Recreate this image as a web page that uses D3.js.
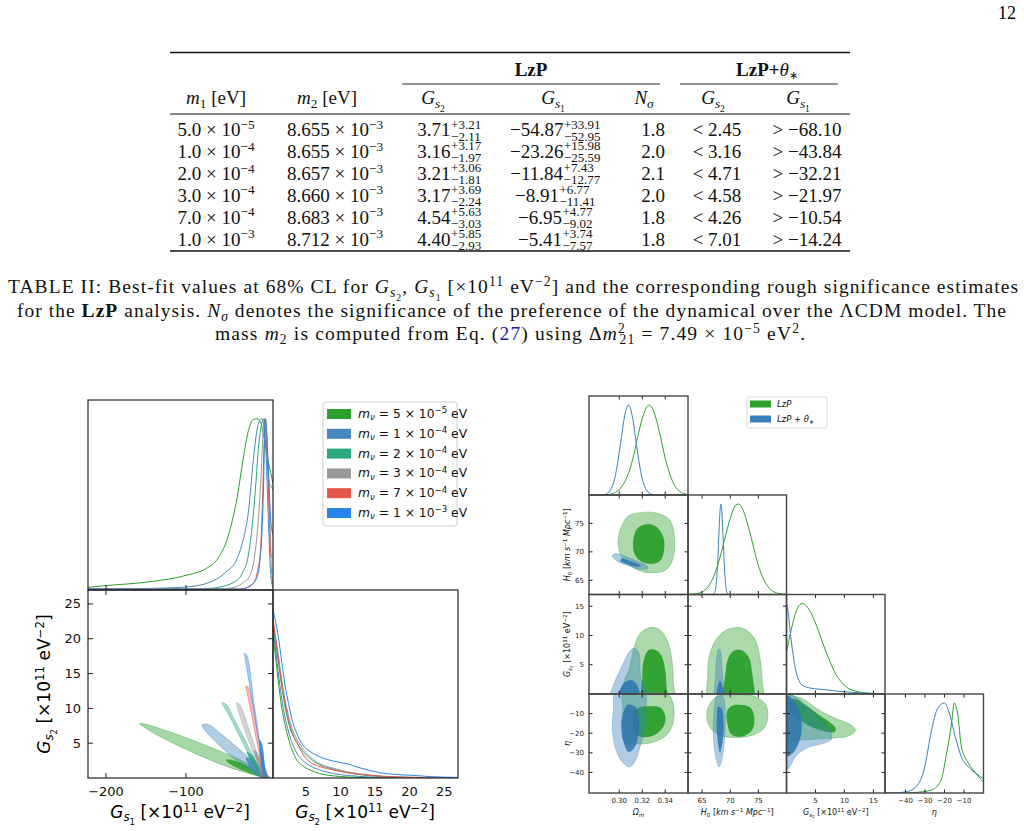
<!DOCTYPE html>
<html>
<head>
<meta charset="utf-8">
<script src="https://cdn.jsdelivr.net/npm/d3@7"></script>
<style>
  body { margin: 0; background: #fff; }
  svg { display: block; }
</style>
</head>
<body>
<svg id="page" width="1024" height="831"></svg>
<script>
// ---------------- table data ----------------
const m1Mant = ["5.0", "1.0", "2.0", "3.0", "7.0", "1.0"];
const m1Exp = ["−5", "−4", "−4", "−4", "−4", "−3"];
const m2Mant = ["8.655", "8.655", "8.657", "8.660", "8.683", "8.712"];
const gs2Best = ["3.71", "3.16", "3.21", "3.17", "4.54", "4.40"];
const gs2Up = ["+3.21", "+3.17", "+3.06", "+3.69", "+5.63", "+5.85"];
const gs2Lo = ["−2.11", "−1.97", "−1.81", "−2.24", "−3.03", "−2.93"];
const gs1Best = ["−54.87", "−23.26", "−11.84", "−8.91", "−6.95", "−5.41"];
const gs1Up = ["+33.91", "+15.98", "+7.43", "+6.77", "+4.77", "+3.74"];
const gs1Lo = ["−52.95", "−25.59", "−12.77", "−11.41", "−9.02", "−7.57"];
const nSigma = ["1.8", "2.0", "2.1", "2.0", "1.8", "1.8"];
const gs2Limit = ["< 2.45", "< 3.16", "< 4.71", "< 4.58", "< 4.26", "< 7.01"];
const gs1Limit = ["> −68.10", "> −43.84", "> −32.21", "> −21.97", "> −10.54", "> −14.24"];

// ---------------- left corner plot data (Gs1, Gs2) ----------------
const massMant = ["5", "1", "2", "3", "7", "1"];
const massExp = ["−5", "−4", "−4", "−4", "−4", "−3"];
const massColors = ["#2ca02c", "#4689be", "#2aa77e", "#999999", "#e6554b", "#2885e8"];

// 1D marginal of Gs1, one per mass  [Gs1, density]
const gs1Dens5e5 = [[-222, 0.01], [-200, 0.02], [-150, 0.04], [-100, 0.08], [-75, 0.12], [-60, 0.18], [-48, 0.3], [-36, 0.54], [-28, 0.78], [-22, 0.93], [-16, 0.995], [-11, 1.0], [-6, 0.97], [-2, 0.88], [2, 0.77], [6, 0.68], [8.7, 0.62]];
const gs1Dens1e4 = [[-222, 0], [-150, 0.003], [-100, 0.012], [-70, 0.04], [-50, 0.1], [-36, 0.18], [-28, 0.3], [-22, 0.45], [-16, 0.75], [-11, 0.94], [-6, 1.0], [-3, 0.97], [0, 0.8], [3, 0.4], [6, 0.08], [8.7, 0.01]];
const gs1Dens2e4 = [[-222, 0], [-80, 0], [-60, 0.01], [-40, 0.04], [-30, 0.09], [-22, 0.2], [-17, 0.38], [-13, 0.6], [-9, 0.85], [-5, 0.98], [-3, 1.0], [0, 0.9], [4, 0.62], [7, 0.6], [8.7, 0.58]];
const gs1Dens3e4 = [[-222, 0], [-55, 0], [-40, 0.01], [-28, 0.04], [-20, 0.08], [-14, 0.2], [-10, 0.38], [-6, 0.68], [-3.5, 0.93], [-2, 1.0], [0, 0.95], [4, 0.55], [7, 0.1], [8.7, 0.02]];
const gs1Dens7e4 = [[-222, 0], [-35, 0], [-22, 0.01], [-14, 0.05], [-10, 0.12], [-7, 0.22], [-4.5, 0.5], [-3, 0.75], [-1.5, 0.97], [-1, 1.0], [0, 0.97], [3, 0.6], [6, 0.2], [8.7, 0.18]];
const gs1Dens1e3 = [[-222, 0], [-30, 0], [-20, 0.02], [-12, 0.06], [-8, 0.15], [-5, 0.34], [-3, 0.62], [-2, 0.85], [-1, 1.0], [0, 0.98], [3, 0.7], [6, 0.4], [8.7, 0.32]];

// 1D marginal of Gs2, one per mass  [Gs2, density]
const gs2Dens5e5 = [[0.25, 0.82], [1, 0.55], [1.5, 0.4], [2, 0.3], [2.5, 0.22], [3, 0.16], [3.7, 0.1], [4.5, 0.07], [5.6, 0.045], [7, 0.025], [9, 0.012], [11, 0.006], [14, 0.002], [27, 0]];
const gs2Dens1e4 = [[0.25, 0.85], [1, 0.6], [1.5, 0.45], [2, 0.34], [2.5, 0.26], [3, 0.2], [3.7, 0.14], [4.5, 0.1], [5.6, 0.07], [7, 0.045], [9, 0.025], [11, 0.015], [14, 0.006], [18, 0.002], [27, 0]];
const gs2Dens2e4 = [[0.25, 0.86], [1, 0.66], [1.5, 0.52], [2, 0.4], [2.5, 0.31], [3, 0.25], [3.7, 0.2], [4.5, 0.155], [5.6, 0.11], [7, 0.075], [9, 0.05], [11, 0.03], [13, 0.018], [16, 0.008], [20, 0.003], [27, 0.001]];
const gs2Dens3e4 = [[0.25, 0.88], [1, 0.7], [1.5, 0.56], [2, 0.44], [2.5, 0.35], [3, 0.28], [3.7, 0.22], [4.5, 0.17], [5.6, 0.12], [7, 0.08], [9, 0.055], [11, 0.035], [13, 0.022], [16, 0.01], [20, 0.004], [27, 0.001]];
const gs2Dens7e4 = [[0.25, 0.9], [1, 0.68], [1.5, 0.54], [2, 0.42], [2.5, 0.33], [3, 0.26], [3.7, 0.2], [4.5, 0.14], [5.6, 0.09], [7, 0.065], [9, 0.045], [11, 0.03], [13, 0.02], [16, 0.01], [20, 0.004], [27, 0.001]];
const gs2Dens1e3 = [[0.25, 0.95], [1, 0.8], [1.5, 0.66], [2, 0.52], [2.5, 0.42], [3, 0.33], [3.7, 0.25], [4.5, 0.19], [5.6, 0.15], [7, 0.12], [9, 0.095], [11, 0.08], [13, 0.055], [15.7, 0.03], [18, 0.02], [20.4, 0.015], [23, 0.008], [27, 0.003]];

// 2D contours (Gs1, Gs2): outer = 95%, inner = 68%
const cont95_5e5 = [[-158, 7.8], [-150, 7.7], [-120, 6.6], [-80, 4.9], [-40, 3.0], [-15, 1.6], [0, 0.6], [5, 0], [0, 0], [-20, 0.6], [-50, 1.7], [-90, 3.6], [-130, 5.8], [-155, 7.5]];
const cont68_5e5 = [[-50, 2.6], [-40, 2.5], [-20, 1.6], [-5, 0.6], [2, 0], [-8, 0.2], [-25, 0.9], [-45, 2.0]];
const cont95_1e4 = [[-80, 7.6], [-72, 7.7], [-55, 6.2], [-35, 4.3], [-15, 2.2], [0, 0.6], [4, 0], [-5, 0], [-20, 1.2], [-40, 2.8], [-60, 4.9], [-76, 6.8]];
const cont68_1e4 = [[-25, 2.9], [-18, 2.7], [-8, 1.5], [0, 0.3], [-5, 0.2], [-15, 0.9], [-23, 2.2]];
const cont95_2e4 = [[-55, 10.8], [-50, 10.6], [-38, 8.0], [-22, 4.5], [-8, 1.5], [2, 0], [-5, 0.2], [-18, 2.6], [-33, 6.0], [-48, 9.4]];
const cont68_2e4 = [[-24, 3.7], [-18, 3.4], [-8, 1.5], [0, 0.2], [-6, 0.4], [-15, 1.8], [-22, 3.1]];
const cont95_3e4 = [[-37, 10.8], [-33, 10.6], [-22, 7.2], [-10, 3.2], [1, 0.2], [-3, 0.1], [-12, 2.5], [-25, 6.4], [-35, 9.8]];
const cont68_3e4 = [[-15, 4.0], [-11, 3.6], [-4, 1.3], [0, 0.1], [-4, 0.4], [-10, 2.0], [-14, 3.3]];
const cont95_7e4 = [[-25, 13.2], [-22, 13.0], [-12, 7.4], [-3, 2.0], [2, 0], [-2, 0], [-9, 3.8], [-18, 9.0], [-24, 12.5]];
const cont68_7e4 = [[-8, 4.3], [-5, 3.8], [-1, 1.0], [0, 0], [-3, 0.6], [-7, 2.6]];
const cont95_1e3 = [[-27, 17.9], [-24, 17.6], [-14, 10.0], [-5, 3.2], [1, 0.2], [-2, 0], [-8, 4.6], [-18, 11.6], [-26, 17.1]];
const cont68_1e3 = [[-8, 5.5], [-5, 5], [-1, 1.2], [0, 0], [-3, 0.8], [-7, 3.5]];

const gs1Ticks = [-200, -100];
const gs2Ticks = [5, 10, 15, 20, 25];

// ---------------- right corner plot data ----------------
const omTicks = [0.30, 0.32, 0.34];
const h0Ticks = [65, 70, 75];
const gsTicks = [5, 10, 15];
const etaTicks = [-40, -30, -20, -10];

const omLzP1D = [[0.276, 0], [0.284, 0.001], [0.288, 0.003], [0.292, 0.008], [0.296, 0.025], [0.300, 0.06], [0.304, 0.13], [0.308, 0.24], [0.312, 0.41], [0.316, 0.64], [0.320, 0.85], [0.324, 0.98], [0.326, 1.0], [0.328, 0.98], [0.332, 0.85], [0.336, 0.64], [0.340, 0.41], [0.344, 0.23], [0.348, 0.11], [0.352, 0.046], [0.356, 0.017], [0.360, 0.005]];
const omTh1D = [[0.276, 0], [0.284, 0.001], [0.288, 0.008], [0.290, 0.022], [0.292, 0.048], [0.294, 0.099], [0.296, 0.18], [0.298, 0.31], [0.300, 0.47], [0.302, 0.65], [0.304, 0.83], [0.306, 0.95], [0.308, 1.0], [0.310, 0.95], [0.312, 0.83], [0.314, 0.65], [0.316, 0.47], [0.318, 0.31], [0.320, 0.18], [0.322, 0.099], [0.324, 0.048], [0.326, 0.022], [0.328, 0.009], [0.332, 0.001], [0.340, 0], [0.360, 0]];
const h0LzP1D = [[62.5, 0.001], [63, 0.002], [64, 0.009], [65, 0.028], [66, 0.08], [67, 0.19], [68, 0.37], [69, 0.61], [70, 0.84], [71, 0.99], [71.4, 1.0], [72, 0.97], [73, 0.80], [74, 0.56], [75, 0.32], [76, 0.16], [77, 0.066], [78, 0.023], [79, 0.007], [80, 0.002]];
const h0Th1D = [[62.5, 0], [66.5, 0], [67, 0.003], [67.25, 0.023], [67.5, 0.11], [67.75, 0.32], [68, 0.68], [68.25, 0.97], [68.35, 1.0], [68.5, 0.93], [68.75, 0.61], [69, 0.27], [69.25, 0.08], [69.5, 0.015], [69.75, 0.002], [70.25, 0], [80, 0]];
const gsLzP1D = [[0, 0.46], [0.5, 0.62], [1, 0.76], [1.5, 0.88], [2, 0.96], [2.7, 1.0], [3.5, 0.97], [4.5, 0.86], [5.5, 0.70], [6.5, 0.52], [7.5, 0.36], [8.5, 0.22], [9.5, 0.13], [10.5, 0.07], [12, 0.03], [14, 0.01], [17, 0.002]];
const gsTh1D = [[0, 1.0], [0.3, 0.9], [0.6, 0.72], [1, 0.5], [1.5, 0.29], [2, 0.17], [2.5, 0.11], [3.5, 0.075], [5, 0.058], [7, 0.045], [9, 0.03], [11, 0.02], [14, 0.008], [17, 0.002]];
const etaLzP1D = [[-50.5, 0], [-40, 0], [-33, 0.01], [-27, 0.03], [-22, 0.13], [-19, 0.43], [-16.4, 0.77], [-15, 1.0], [-13.3, 0.89], [-11.3, 0.51], [-7.7, 0.33], [-4, 0.22], [0, 0.12]];
const etaTh1D = [[-50.5, 0], [-45, 0.003], [-40, 0.012], [-35, 0.06], [-30, 0.3], [-27, 0.66], [-23.5, 0.94], [-20, 1.0], [-18, 0.92], [-14.4, 0.62], [-11.3, 0.4], [-7.7, 0.29], [-4, 0.22], [0, 0.16]];

// 2D contours [x param, y param]
const omH0LzP95 = [[0.299, 71.5], [0.302, 74.5], [0.308, 76.3], [0.318, 76.9], [0.333, 76.8], [0.344, 75.6], [0.348, 72.5], [0.347, 69], [0.341, 66.9], [0.328, 66.3], [0.314, 67.0], [0.303, 68.8]];
const omH0LzP68 = [[0.312, 71.5], [0.315, 73.9], [0.322, 74.8], [0.331, 74.6], [0.338, 72.8], [0.339, 70.2], [0.335, 68.3], [0.326, 67.9], [0.317, 68.6], [0.313, 69.8]];
const omH0Th95 = [[0.294, 69.3], [0.297, 69.7], [0.304, 69.3], [0.315, 68.4], [0.324, 67.6], [0.325, 67.1], [0.320, 66.9], [0.309, 67.5], [0.298, 68.4]];
const omH0Th68 = [[0.302, 68.8], [0.308, 68.5], [0.316, 67.9], [0.319, 67.5], [0.315, 67.4], [0.307, 67.8], [0.301, 68.4]];
const omGsLzP95 = [[0.302, -1], [0.304, 2], [0.309, 4.5], [0.313, 8], [0.318, 10.3], [0.326, 11.3], [0.335, 11.0], [0.342, 9.0], [0.346, 5.5], [0.347, 2], [0.347, -1]];
const omGsLzP68 = [[0.320, -1], [0.320, 2.5], [0.321, 5.5], [0.325, 7.4], [0.330, 7.6], [0.336, 6.8], [0.340, 4.2], [0.341, 1.5], [0.341, -1]];
const omGsTh95 = [[0.292, -1], [0.295, 1.5], [0.300, 3.8], [0.305, 5.8], [0.309, 7.3], [0.313, 7.8], [0.317, 7.0], [0.318, 4.5], [0.319, 2.5], [0.323, 0.8], [0.325, -1]];
const omGsTh68 = [[0.299, -1], [0.301, 0.9], [0.305, 2.0], [0.310, 2.4], [0.314, 2.0], [0.317, 0.8], [0.318, -1]];
const omEtaLzP95 = [[0.304, 1], [0.303, -8], [0.302, -17], [0.305, -24.5], [0.315, -25.5], [0.330, -24.5], [0.342, -20.5], [0.347, -14], [0.347, -5], [0.343, -0.5], [0.335, 1]];
const omEtaLzP68 = [[0.313, -9], [0.312, -15], [0.314, -20], [0.321, -22], [0.332, -20.5], [0.339, -16], [0.340, -11], [0.336, -7], [0.326, -6.3], [0.317, -7]];
const omEtaTh95 = [[0.297, 1], [0.295, -8], [0.294, -18], [0.297, -28], [0.303, -35], [0.309, -37.2], [0.314, -34], [0.318, -27], [0.322, -18], [0.323, -8], [0.322, 1]];
const omEtaTh68 = [[0.307, -5.5], [0.303, -11], [0.302, -18], [0.304, -25], [0.308, -29.5], [0.313, -27.5], [0.317, -20], [0.317, -12], [0.314, -6.5]];
const h0GsLzP95 = [[66.3, -1], [66.0, 3], [66.3, 6.5], [67.6, 9.5], [69.7, 11.1], [72.3, 11.2], [74.3, 9.5], [75.3, 6], [75.7, 2], [75.7, -1]];
const h0GsLzP68 = [[69.0, -1], [69.1, 3], [69.6, 6], [70.6, 7.4], [71.9, 7.5], [73.3, 6.3], [73.9, 3.5], [74.0, -1]];
const h0GsTh95 = [[67.4, -1], [67.4, 3], [67.6, 6.2], [67.9, 7.7], [68.3, 7.2], [68.5, 4.5], [68.8, 1.5], [68.9, -1]];
const h0GsTh68 = [[67.6, -1], [67.8, 1.3], [68.2, 2.3], [68.6, 1.4], [68.9, -1]];
const h0EtaLzP95 = [[67.5, -1.5], [66.2, -6], [65.8, -11], [66.4, -17], [68.2, -21], [71, -22.2], [74, -21], [76, -17.5], [76.7, -11], [76.2, -5], [74.3, -1.2], [71, -0.3]];
const h0EtaLzP68 = [[69.4, -9], [69.5, -15], [70.2, -20.5], [72, -21.8], [73.8, -18.8], [74.3, -13], [73.6, -7], [71.5, -5.5], [70.2, -6.3]];
const h0EtaTh95 = [[67.6, -1], [67.1, -10], [67.0, -20], [67.3, -30], [68.0, -37.2], [68.6, -32], [69.0, -22], [69.1, -10], [68.8, -2], [68.2, -0.3]];
const h0EtaTh68 = [[67.9, -6.5], [67.6, -13], [67.7, -22], [68.2, -29.8], [68.7, -23], [68.8, -14], [68.5, -7.5]];
const gsEtaLzP95 = [[-1, 0.5], [1, -0.8], [3, -2.8], [5.5, -8], [8.5, -12.5], [11, -15.5], [11.9, -18.5], [10.8, -21.3], [8, -22.5], [4, -23.2], [1.5, -23.8], [-1, -25.5]];
const gsEtaLzP68 = [[1.2, -2.5], [3.2, -5.5], [5.5, -10.5], [7.5, -14.5], [8.5, -17.5], [8.3, -19.4], [6.2, -18.8], [3.5, -15.5], [1.3, -11], [0.4, -6]];
const gsEtaTh95 = [[-1, 0.5], [1.5, -1.5], [3.5, -6.5], [6, -13], [7.6, -19], [7.8, -23], [6.5, -25], [3.8, -27.2], [1.8, -31], [0.3, -38], [-1, -41]];
const gsEtaTh68 = [[-1, 0], [0.8, -2], [2, -7], [2.6, -14], [2.5, -21], [1.8, -27], [0.8, -31], [-1, -32]];

// ---------------- helpers ----------------
const svg = d3.select("#page");
const defs = svg.append("defs");
const serif = "'Liberation Serif', 'Times New Roman', serif";
const sans = "'DejaVu Sans', sans-serif";

// segments: [text, style, dx]; style: i italic, b bold, ^ sup, _ sub, ~ sub-sub, L link colour
function rich(text, segs, fs) {
	let cur = 0;
	segs.forEach(s => {
		const [t, st = "", dx = 0] = s;
		let off = 0, size = fs;
		if (st.includes("^")) { off = -0.38 * fs; size = 0.7 * fs; }
		else if (st.includes("~")) { off = 0.42 * fs; size = 0.5 * fs; }
		else if (st.includes("_")) { off = 0.2 * fs; size = 0.7 * fs; }
		const ts = text.append("tspan").attr("font-size", size).attr("dy", (off - cur).toFixed(2)).text(t);
		if (dx) ts.attr("dx", dx);
		if (st.includes("i")) ts.attr("font-style", "italic");
		if (st.includes("b")) ts.attr("font-weight", "bold");
		if (st.includes("L")) ts.attr("fill", "#2222a0");
		cur = off;
	});
	return text;
}

function clip(id, x, y, w, h) {
	defs.append("clipPath").attr("id", id).append("rect")
		.attr("x", x).attr("y", y).attr("width", w).attr("height", h);
	return `url(#${id})`;
}

const minus = d => d < 0 ? "−" + Math.abs(d) : String(d);

// ---------------- page number ----------------
svg.append("text").attr("x", 1016).attr("y", 19).attr("text-anchor", "end")
	.attr("font-family", serif).attr("font-size", 18).text("12");

// ---------------- table ----------------
const tbl = svg.append("g").attr("font-family", serif).attr("fill", "#111");
const tfs = 19;
tbl.append("line").attr("x1", 170).attr("x2", 850).attr("y1", 52.5).attr("y2", 52.5).attr("stroke", "#111").attr("stroke-width", 1.6);
tbl.append("line").attr("x1", 170).attr("x2", 850).attr("y1", 114).attr("y2", 114).attr("stroke", "#111").attr("stroke-width", 1);
tbl.append("line").attr("x1", 170).attr("x2", 850).attr("y1", 251).attr("y2", 251).attr("stroke", "#111").attr("stroke-width", 1.6);
tbl.append("line").attr("x1", 402).attr("x2", 660).attr("y1", 84).attr("y2", 84).attr("stroke", "#111").attr("stroke-width", 0.9);
tbl.append("line").attr("x1", 680).attr("x2", 838).attr("y1", 84).attr("y2", 84).attr("stroke", "#111").attr("stroke-width", 0.9);

rich(tbl.append("text").attr("x", 531).attr("y", 76).attr("text-anchor", "middle"), [["LzP", "b"]], tfs);
const thetaHead = tbl.append("text").attr("x", 767).attr("y", 76).attr("text-anchor", "middle");
rich(thetaHead, [["LzP+", "b"], ["θ", "i"]], tfs);
thetaHead.append("tspan").attr("font-size", 11).attr("dy", 3).text("∗");

const headers = [
	[216, [["m", "i"], ["1", "_"], [" [eV]"]]],
	[327, [["m", "i"], ["2", "_"], [" [eV]"]]],
	[433, [["G", "i"], ["s", "i_"], ["2", "~"]]],
	[553, [["G", "i"], ["s", "i_"], ["1", "~"]]],
	[644, [["N", "i"], ["σ", "i_"]]],
	[713, [["G", "i"], ["s", "i_"], ["2", "~"]]],
	[798, [["G", "i"], ["s", "i_"], ["1", "~"]]]
];
headers.forEach(([x, segs]) => rich(tbl.append("text").attr("x", x).attr("y", 104).attr("text-anchor", "middle"), segs, tfs));

function pmCell(cx, y, base, up, lo) {
	const t = tbl.append("text").attr("y", y).attr("font-size", tfs).text(base);
	const w = t.node().getComputedTextLength();
	const tu = tbl.append("text").attr("y", y - 7.5).attr("font-size", 13).text(up);
	const tl = tbl.append("text").attr("y", y + 4.5).attr("font-size", 13).text(lo);
	const wu = Math.max(tu.node().getComputedTextLength(), tl.node().getComputedTextLength());
	const x0 = cx - (w + wu) / 2;
	t.attr("x", x0);
	tu.attr("x", x0 + w + 0.5);
	tl.attr("x", x0 + w + 0.5);
}

m1Mant.forEach((m, i) => {
	const y = 136 + i * 21.9;
	rich(tbl.append("text").attr("x", 216).attr("y", y).attr("text-anchor", "middle"), [[m + " × 10"], [m1Exp[i], "^"]], tfs);
	rich(tbl.append("text").attr("x", 335).attr("y", y).attr("text-anchor", "middle"), [[m2Mant[i] + " × 10"], ["−3", "^"]], tfs);
	pmCell(449, y, gs2Best[i], gs2Up[i], gs2Lo[i]);
	pmCell(555, y, gs1Best[i], gs1Up[i], gs1Lo[i]);
	tbl.append("text").attr("x", 665).attr("y", y).attr("text-anchor", "end").attr("font-size", tfs).text(nSigma[i]);
	tbl.append("text").attr("x", 717).attr("y", y).attr("text-anchor", "middle").attr("font-size", tfs).text(gs2Limit[i]);
	tbl.append("text").attr("x", 807).attr("y", y).attr("text-anchor", "middle").attr("font-size", tfs).text(gs1Limit[i]);
});

// ---------------- caption ----------------
const captionLines = [
	[["TABLE II: Best-fit values at 68% CL for "], ["G", "i"], ["s", "i_"], ["2", "~"], [", "], ["G", "i"], ["s", "i_"], ["1", "~"], [" [×10"], ["11", "^"], [" eV"], ["−2", "^"], ["] and the corresponding rough significance estimates"]],
	[["for the "], ["LzP", "b"], [" analysis. "], ["N", "i"], ["σ", "i_"], [" denotes the significance of the preference of the dynamical over the ΛCDM model. The"]],
	[["mass "], ["m", "i"], ["2", "_"], [" is computed from Eq. ("], ["27", "L"], [") using Δ"], ["m", "i"], ["2", "^"], ["21", "_", -6.5], [" = 7.49 × 10"], ["−5", "^"], [" eV"], ["2", "^"], ["."]]
];
const captionX = [513, 511.5, 510];
const captionY = [293, 317, 340];
const captionW = [1010, 989, 590];
const cap = svg.append("g").attr("font-family", serif).attr("fill", "#111");
captionLines.forEach((segs, i) => {
	rich(cap.append("text").attr("x", captionX[i]).attr("y", captionY[i]).attr("text-anchor", "middle")
		.attr("textLength", captionW[i]).attr("lengthAdjust", "spacing"), segs, 19.5);
});

// ---------------- left corner plot ----------------
const L = { x0: 88, xm: 273, x1: 458, y0: 400, ym: 590, y1: 778 };
const xG1 = d3.scaleLinear([-222.5, 8.75], [L.x0, L.xm]);
const yG2 = d3.scaleLinear([0, 27], [L.y1, L.ym]);
const xG2 = d3.scaleLinear([0.25, 27], [L.xm, L.x1]);
const yTop = d3.scaleLinear([0, 1.11], [L.ym - 1, L.y0]);
const yRight = d3.scaleLinear([0, 1.06], [L.y1, L.ym]);

const left = svg.append("g").attr("font-family", sans);
const gs1Dens = [gs1Dens5e5, gs1Dens1e4, gs1Dens2e4, gs1Dens3e4, gs1Dens7e4, gs1Dens1e3];
const gs2Dens = [gs2Dens5e5, gs2Dens1e4, gs2Dens2e4, gs2Dens3e4, gs2Dens7e4, gs2Dens1e3];
const conts = [[cont95_5e5, cont68_5e5], [cont95_1e4, cont68_1e4], [cont95_2e4, cont68_2e4],
	[cont95_3e4, cont68_3e4], [cont95_7e4, cont68_7e4], [cont95_1e3, cont68_1e3]];

const topPanel = left.append("g").attr("clip-path", clip("cTop", L.x0, L.y0, L.xm - L.x0, L.ym - L.y0));
const lineTop = d3.line().x(d => xG1(d[0])).y(d => yTop(d[1])).curve(d3.curveMonotoneX);
topPanel.selectAll("path").data(gs1Dens).join("path")
	.attr("d", lineTop).attr("fill", "none").attr("stroke", (d, i) => massColors[i]).attr("stroke-width", 1);

const area2D = left.append("g").attr("clip-path", clip("c2D", L.x0, L.ym, L.xm - L.x0, L.y1 - L.ym));
const closed = d3.line().x(d => xG1(d[0])).y(d => yG2(d[1])).curve(d3.curveCatmullRomClosed.alpha(0.5));
conts.forEach((pair, i) => {
	area2D.append("path").attr("d", closed(pair[0])).attr("fill", massColors[i]).attr("fill-opacity", 0.42)
		.attr("stroke", massColors[i]).attr("stroke-opacity", 0.6).attr("stroke-width", 0.7);
	area2D.append("path").attr("d", closed(pair[1])).attr("fill", massColors[i]).attr("fill-opacity", 0.85);
});

const rightPanel = left.append("g").attr("clip-path", clip("cRight", L.xm, L.ym, L.x1 - L.xm, L.y1 - L.ym));
const lineRight = d3.line().x(d => xG2(d[0])).y(d => yRight(d[1])).curve(d3.curveMonotoneX);
rightPanel.selectAll("path").data(gs2Dens).join("path")
	.attr("d", lineRight).attr("fill", "none").attr("stroke", (d, i) => massColors[i]).attr("stroke-width", 1);

// frames
const frame = left.append("g").attr("fill", "none").attr("stroke", "#222").attr("stroke-width", 1.2);
frame.append("rect").attr("x", L.x0).attr("y", L.y0).attr("width", L.xm - L.x0).attr("height", L.ym - L.y0);
frame.append("rect").attr("x", L.x0).attr("y", L.ym).attr("width", L.xm - L.x0).attr("height", L.y1 - L.ym);
frame.append("rect").attr("x", L.xm).attr("y", L.ym).attr("width", L.x1 - L.xm).attr("height", L.y1 - L.ym);

// ticks
const tk = left.append("g").attr("stroke", "#222").attr("stroke-width", 1);
gs1Ticks.forEach(v => {
	const x = xG1(v);
	tk.append("line").attr("x1", x).attr("x2", x).attr("y1", L.ym).attr("y2", L.ym - 5);
	tk.append("line").attr("x1", x).attr("x2", x).attr("y1", L.ym).attr("y2", L.ym + 5);
	tk.append("line").attr("x1", x).attr("x2", x).attr("y1", L.y1).attr("y2", L.y1 - 5);
});
gs2Ticks.forEach(v => {
	const y = yG2(v);
	tk.append("line").attr("x1", L.x0).attr("x2", L.x0 + 5).attr("y1", y).attr("y2", y);
	tk.append("line").attr("x1", L.xm).attr("x2", L.xm - 5).attr("y1", y).attr("y2", y);
});

const tl = left.append("g").attr("font-size", 13).attr("fill", "#111");
gs1Ticks.forEach(v => tl.append("text").attr("x", xG1(v)).attr("y", 796).attr("text-anchor", "middle").text(minus(v)));
gs2Ticks.forEach(v => tl.append("text").attr("x", xG2(v)).attr("y", 796).attr("text-anchor", "middle").text(v));
gs2Ticks.forEach(v => tl.append("text").attr("x", 81).attr("y", yG2(v) + 4.5).attr("text-anchor", "end").text(v));

const gsLabel = n => [["G", "i"], ["s", "i_"], [n, "~"], [" [×10"], ["11", "^"], [" eV"], ["−2", "^"], ["]"]];
rich(left.append("text").attr("x", 180).attr("y", 818).attr("text-anchor", "middle"), gsLabel("1"), 17);
rich(left.append("text").attr("x", 365).attr("y", 818).attr("text-anchor", "middle"), gsLabel("2"), 17);
rich(left.append("text").attr("transform", "translate(50,684) rotate(-90)").attr("text-anchor", "middle"), gsLabel("2"), 17);

// legend
const lg = left.append("g");
lg.append("rect").attr("x", 323).attr("y", 402).attr("width", 134).attr("height", 124).attr("rx", 3)
	.attr("fill", "#fff").attr("fill-opacity", 0.8).attr("stroke", "#d0d0d0");
massMant.forEach((m, i) => {
	const y = 414 + i * 19.8;
	lg.append("rect").attr("x", 327).attr("y", y - 5).attr("width", 24).attr("height", 10).attr("fill", massColors[i]);
	rich(lg.append("text").attr("x", 358).attr("y", y + 4).attr("fill", "#111"),
		[["m", "i"], ["ν", "i_"], [" = " + m + " × 10"], [massExp[i], "^"], [" eV"]], 12.3);
});

// ---------------- right corner plot ----------------
const R = { cols: [589, 688, 786.5, 885, 983.5], rows: [396, 495, 594.5, 694, 793] };
const rDomains = [[0.2737, 0.3598], [62.5, 80], [0, 17], [-50.5, 0]];
const rTicks = [omTicks, h0Ticks, gsTicks, etaTicks];
const rFmt = [d3.format(".2f"), d3.format("d"), d3.format("d"), minus];
const rx = rDomains.map((d, i) => d3.scaleLinear(d, [R.cols[i], R.cols[i + 1]]));
const ry = rDomains.map((d, i) => d3.scaleLinear(d, [R.rows[i + 1], R.rows[i]]));
const lzpColor = "#2ca02c", thColor = "#3a80bd";

const right = svg.append("g").attr("font-family", sans);

const oneD = [[omLzP1D, omTh1D], [h0LzP1D, h0Th1D], [gsLzP1D, gsTh1D], [etaLzP1D, etaTh1D]];
oneD.forEach((pair, i) => {
	const y = d3.scaleLinear([0, 1.1], [R.rows[i + 1], R.rows[i]]);
	const g = right.append("g").attr("clip-path", clip("r1d" + i, R.cols[i], R.rows[i], R.cols[i + 1] - R.cols[i], R.rows[i + 1] - R.rows[i]));
	const ln = d3.line().x(d => rx[i](d[0])).y(d => y(d[1])).curve(d3.curveMonotoneX);
	g.append("path").attr("d", ln(pair[0])).attr("fill", "none").attr("stroke", lzpColor).attr("stroke-width", 1);
	g.append("path").attr("d", ln(pair[1])).attr("fill", "none").attr("stroke", thColor).attr("stroke-width", 1);
});

const twoD = [
	[0, 1, omH0LzP95, omH0LzP68, omH0Th95, omH0Th68],
	[0, 2, omGsLzP95, omGsLzP68, omGsTh95, omGsTh68],
	[0, 3, omEtaLzP95, omEtaLzP68, omEtaTh95, omEtaTh68],
	[1, 2, h0GsLzP95, h0GsLzP68, h0GsTh95, h0GsTh68],
	[1, 3, h0EtaLzP95, h0EtaLzP68, h0EtaTh95, h0EtaTh68],
	[2, 3, gsEtaLzP95, gsEtaLzP68, gsEtaTh95, gsEtaTh68]
];
twoD.forEach(([c, r, a95, a68, b95, b68]) => {
	const g = right.append("g").attr("clip-path", clip(`r2d${c}${r}`, R.cols[c], R.rows[r], R.cols[c + 1] - R.cols[c], R.rows[r + 1] - R.rows[r]));
	const ln = d3.line().x(d => rx[c](d[0])).y(d => ry[r](d[1])).curve(d3.curveCatmullRomClosed.alpha(0.5));
	g.append("path").attr("d", ln(a95)).attr("fill", lzpColor).attr("fill-opacity", 0.4).attr("stroke", lzpColor).attr("stroke-opacity", 0.5).attr("stroke-width", 0.7);
	g.append("path").attr("d", ln(a68)).attr("fill", lzpColor).attr("fill-opacity", 0.95);
	g.append("path").attr("d", ln(b95)).attr("fill", thColor).attr("fill-opacity", 0.4).attr("stroke", thColor).attr("stroke-opacity", 0.5).attr("stroke-width", 0.7);
	g.append("path").attr("d", ln(b68)).attr("fill", "#2c74ad").attr("fill-opacity", 0.85);
});

// frames, ticks and labels
const rt = right.append("g");
for (let r = 0; r < 4; r++) {
	for (let c = 0; c <= r; c++) {
		const x0 = R.cols[c], x1 = R.cols[c + 1], y0 = R.rows[r], y1 = R.rows[r + 1];
		rTicks[c].forEach(v => {
			const x = rx[c](v);
			rt.append("line").attr("x1", x).attr("x2", x).attr("y1", y1).attr("y2", y1 - 3.5).attr("stroke", "#222");
			rt.append("line").attr("x1", x).attr("x2", x).attr("y1", y0).attr("y2", y0 + 3.5).attr("stroke", "#222");
		});
		if (r > c) {
			rTicks[r].forEach(v => {
				const y = ry[r](v);
				rt.append("line").attr("x1", x0).attr("x2", x0 + 3.5).attr("y1", y).attr("y2", y).attr("stroke", "#222");
				rt.append("line").attr("x1", x1).attr("x2", x1 - 3.5).attr("y1", y).attr("y2", y).attr("stroke", "#222");
			});
		}
		rt.append("rect").attr("x", x0).attr("y", y0).attr("width", x1 - x0).attr("height", y1 - y0)
			.attr("fill", "none").attr("stroke", "#444").attr("stroke-width", 1.4);
		if (r === 3) {
			rTicks[c].forEach(v => rt.append("text").attr("x", rx[c](v)).attr("y", 803).attr("text-anchor", "middle")
				.attr("font-size", 7).attr("fill", "#222").text(rFmt[c](v)));
		}
		if (c === 0 && r > 0) {
			rTicks[r].forEach(v => rt.append("text").attr("x", 584).attr("y", ry[r](v) + 2.5).attr("text-anchor", "end")
				.attr("font-size", 7).attr("fill", "#222").text(rFmt[r](v)));
		}
	}
}

const rLabels = [
	[["Ω", "i"], ["m", "i_"]],
	[["H", "i"], ["0", "_"], ["  ["], ["km", "i"], ["  "], ["s", "i"], ["−1", "^"], ["  "], ["Mpc", "i"], ["−1", "^"], ["]"]],
	[["G", "i"], ["s", "i_"], ["2", "~"], [" [×10"], ["11", "^"], [" eV"], ["−2", "^"], ["]"]],
	[["η", "i"]]
];
rLabels.forEach((segs, i) => {
	rich(rt.append("text").attr("x", (R.cols[i] + R.cols[i + 1]) / 2).attr("y", 815).attr("text-anchor", "middle").attr("fill", "#111"), segs, 8);
	if (i > 0) {
		const cy = (R.rows[i] + R.rows[i + 1]) / 2;
		rich(rt.append("text").attr("transform", `translate(570,${cy}) rotate(-90)`).attr("text-anchor", "middle").attr("fill", "#111"), segs, 8);
	}
});

// legend
const rl = right.append("g");
rl.append("rect").attr("x", 747).attr("y", 397).attr("width", 80).attr("height", 31).attr("rx", 2)
	.attr("fill", "#fff").attr("stroke", "#d0d0d0").attr("stroke-width", 0.8);
[[lzpColor, [["LzP", "i"]]], [thColor, [["LzP + ", "i"], ["θ", "i"], ["∗", "_"]]]].forEach(([col, segs], i) => {
	const y = 404 + i * 15;
	rl.append("rect").attr("x", 750).attr("y", y - 3.5).attr("width", 21).attr("height", 7).attr("fill", col);
	rich(rl.append("text").attr("x", 777).attr("y", y + 3).attr("fill", "#111"), segs, 8.5);
});
</script>
</body>
</html>
